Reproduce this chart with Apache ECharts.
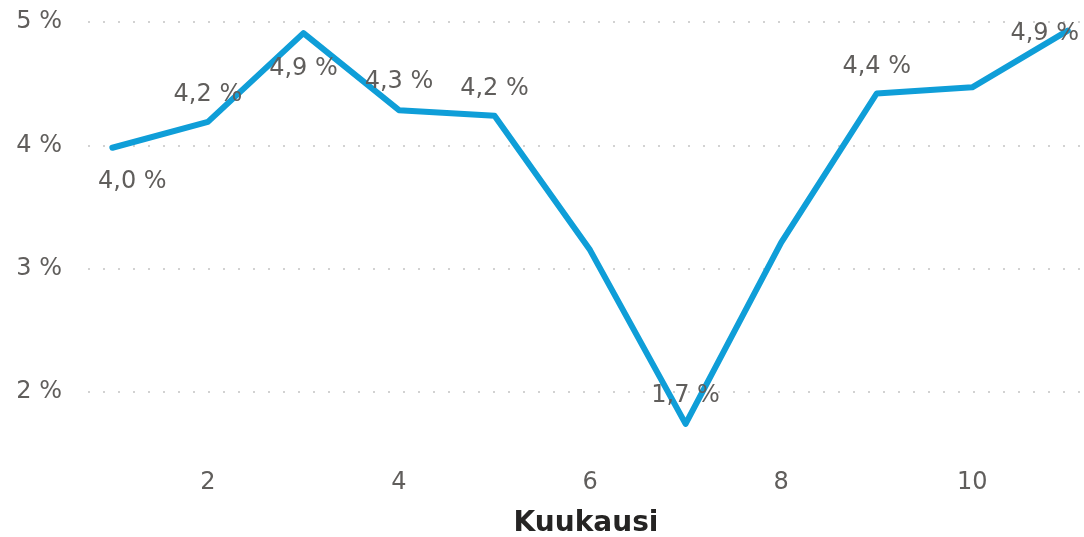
<!DOCTYPE html>
<html>
<head>
<meta charset="utf-8">
<script src="https://cdn.jsdelivr.net/npm/echarts@6/dist/echarts.min.js"></script>
<style>html,body{margin:0;padding:0;background:#fff}#c{width:1084px;height:537px}</style>
</head>
<body>
<div id="c"></div>
<script>
// Data
const months = [1, 2, 3, 4, 5, 6, 7, 8, 9, 10, 11];
const rates = [3.98, 4.19, 4.91, 4.285, 4.24, 3.15, 1.74, 3.21, 4.42, 4.47, 4.93];
const labelledMonths = [1, 2, 3, 4, 5, 7, 9, 11];
const xTicks = [2, 4, 6, 8, 10];
const yTicks = [2, 3, 4, 5];
const xName = 'Kuukausi';

const fmt = v => v.toFixed(1).replace('.', ',') + ' %';
// label placement (style)
const placement = {
  1: {position: 'bottom', distance: 22, offset: [20, 0]},
  2: {position: 'top', distance: 15},
  3: {position: 'bottom', distance: 23},
  4: {position: 'top', distance: 16},
  5: {position: 'top', distance: 14},
  7: {position: 'top', distance: 16},
  9: {position: 'top', distance: 14},
  11: {position: 'inside', offset: [-23, 3]}
};

const data = months.map((m, i) => {
  const item = {value: [m, rates[i]]};
  if (labelledMonths.includes(m)) {
    item.label = Object.assign({show: true}, placement[m]);
  }
  return item;
});

const font = '"DejaVu Sans", sans-serif';
const chart = echarts.init(document.getElementById('c'), null, {renderer: 'canvas'});
chart.setOption({
  animation: false,
  grid: {left: 88, right: 0, top: 22, bottom: 83.5, containLabel: false, outerBoundsMode: 'none'},
  xAxis: {
    type: 'value', min: 0.745, max: 11.17,
    axisLine: {show: false}, splitLine: {show: false},
    axisTick: {show: false, customValues: xTicks},
    axisLabel: {customValues: xTicks, color: '#605E5C', fontSize: 24, fontFamily: font, margin: 17},
    name: xName, nameLocation: 'middle', nameGap: 56,
    nameTextStyle: {color: '#252423', fontSize: 28, fontWeight: 'bold', fontFamily: '"DejaVu Sans", sans-serif'}
  },
  yAxis: {
    type: 'value', min: 1.5, max: 5,
    axisLine: {show: false},
    axisTick: {show: false, customValues: yTicks},
    axisLabel: {customValues: yTicks, color: '#605E5C', fontSize: 24, fontFamily: font, margin: 26,
      padding: [3, 0, 0, 0], formatter: v => v + ' %'},
    splitLine: {show: true, lineStyle: {color: '#d2d2d2', width: 2, type: [2, 13]}}
  },
  series: [{
    type: 'line', data: data, symbol: 'circle', symbolSize: 1, showSymbol: true, clip: false,
    itemStyle: {color: 'rgba(0,0,0,0)'},
    lineStyle: {color: '#0F9ED8', width: 6, cap: 'round', join: 'round'},
    label: {show: false, color: '#605E5C', fontSize: 24, fontFamily: font,
      formatter: p => fmt(p.value[1])}
  }]
});
</script>
</body>
</html>
